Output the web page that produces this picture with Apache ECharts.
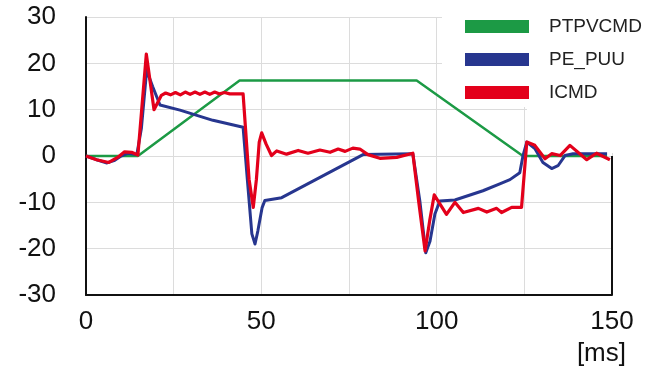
<!DOCTYPE html>
<html>
<head>
<meta charset="utf-8">
<script src="https://cdn.jsdelivr.net/npm/echarts@6/dist/echarts.min.js"></script>
<style>
  html, body { margin: 0; padding: 0; background: #fff; }
  #chart { width: 646px; height: 376px; }
</style>
</head>
<body>
<div id="chart"></div>
<script>
// 位置指令 (ms, value)
var ptpvcmdT = [0, 14.8, 43.8, 94.3, 124.6, 148.6]
var ptpvcmdV = [0, 0, 16.3, 16.3, 0, 0]

// 位置误差
var pePuuT = [0, 3, 6, 8, 10, 12, 14.5, 15.8, 17.3, 19, 21.1, 26.8, 36.2, 44.8,
  46, 47.3, 48.2, 49, 50.2, 51, 55.8, 79, 93.2,
  95.2, 96.9, 98.1, 99.5, 100.9, 105.2, 113.2, 118, 120.9, 123.7, 124.6, 125.7,
  128, 130.3, 132.8, 134.6, 136.6, 138.9, 148.6]
var pePuuV = [0, -0.8, -1.5, -1, 0, 0.6, 0.3, 6, 18.5, 15, 11, 9.9, 7.7, 6.2,
  -5, -16.8, -19, -16.2, -11.2, -9.6, -9, 0.3, 0.5,
  -9.7, -20.9, -18.4, -12.5, -9.7, -9.5, -7.5, -6, -5.1, -3.6, 0, 3,
  1.6, -1.4, -2.7, -2.1, 0.1, 0.5, 0.5]

// 电流指令
var icmdT = [0, 3, 6.5, 9, 11, 13, 14.8, 17.2, 19.4, 21.5, 22.7,
  24.1, 25.5, 26.9, 28.3, 29.7, 31.1, 32.5, 33.9, 35.3, 36.7, 38.1, 39.5, 41, 44.8,
  45.3, 46.5, 47.7, 48.6, 49.4, 50.1, 51.4, 52.9,
  54.4, 57.2, 60.5, 63.3, 66.7, 69.6, 71.9, 73.9, 76.1, 78.1, 80.4, 83.8, 88.6, 93.2,
  94.9, 96.7, 98, 99.3, 102.8, 105.2, 107.6, 111.9, 114.3, 117.1, 118.5, 121.4, 124.2,
  125.7, 128, 130.9, 132.8, 135.2, 138, 142.8, 145.6, 149.4]
var icmdV = [0, -0.8, -1.4, -0.3, 0.9, 0.8, 0.2, 22, 10, 13.1, 13.6,
  13.2, 13.7, 13.2, 13.8, 13.3, 13.8, 13.3, 13.8, 13.3, 13.8, 13.4, 13.7, 13.4, 13.4,
  13, -5, -11.1, -5, 3, 5, 2.5, 0.1,
  1.1, 0.4, 1.2, 0.6, 1.3, 0.8, 1.5, 1, 1.7, 1.5, 0.3, -0.5, -0.3, 0.6,
  -10, -20.5, -14, -8.4, -12.6, -10, -12.2, -11.3, -12.1, -11.3, -12.2, -11.1, -11.1,
  3, 2.3, -0.6, 0.5, 0.1, 2.3, -0.8, 0.6, -0.8]

var xTicks = [0, 50, 100, 150]
var yMin = -30
var yMax = 30

function pairs(t, v) {
  return t.map(function (x, i) { return [x, v[i]] })
}

var font = 'Liberation Sans, Arial, Helvetica, sans-serif'
var chart = echarts.init(document.getElementById('chart'))

var option = {
  animation: false,
  backgroundColor: '#fff',
  grid: {
    left: 86,
    right: 34,
    top: 17,
    bottom: 81
  },
  legend: {
    orient: 'vertical',
    left: 460,
    top: 12,
    icon: 'rect',
    itemWidth: 64,
    itemHeight: 13,
    itemGap: 14,
    textStyle: {
      fontFamily: font,
      fontSize: 19,
      color: '#222',
      padding: [0, 0, 0, 15]
    },
    data: ['PTPVCMD', 'PE_PUU', 'ICMD']
  },
  // 图例下方白底，遮住网格线
  graphic: [
    { type: 'rect', z: 1, shape: { x: 442, y: 0, width: 204, height: 107 }, style: { fill: '#fff' } },
    { type: 'rect', z: 1, shape: { x: 527, y: 0, width: 119, height: 153 }, style: { fill: '#fff' } }
  ],
  xAxis: {
    type: 'value',
    min: 0,
    max: 150,
    interval: 25,
    name: '[ms]',
    nameLocation: 'end',
    nameGap: 0,
    nameTextStyle: {
      fontFamily: font,
      fontSize: 26,
      color: '#111',
      align: 'right',
      verticalAlign: 'top',
      padding: [46, -14, 0, 0]
    },
    axisLine: { onZero: false, lineStyle: { color: '#111', width: 2 } },
    axisTick: { show: false },
    axisLabel: {
      fontFamily: font,
      fontSize: 26,
      color: '#111',
      margin: 14,
      formatter: function (v) {
        return xTicks.indexOf(v) >= 0 ? String(v) : ''
      }
    },
    splitLine: { lineStyle: { color: '#dcdcdc', width: 1 } }
  },
  yAxis: {
    type: 'value',
    min: yMin,
    max: yMax,
    interval: 10,
    axisLine: { show: true, lineStyle: { color: '#111', width: 2 } },
    axisTick: { show: false },
    axisLabel: {
      fontFamily: font,
      fontSize: 26,
      color: '#111',
      margin: 30
    },
    splitLine: { lineStyle: { color: '#dcdcdc', width: 1 } }
  },
  series: [
    {
      name: 'PTPVCMD',
      type: 'line',
      symbol: 'none',
      color: '#1c9a45',
      lineStyle: { width: 2.5 },
      data: pairs(ptpvcmdT, ptpvcmdV),
      // 右侧边框只画到 0 以下
      markLine: {
        silent: true,
        symbol: 'none',
        label: { show: false },
        lineStyle: { color: '#111', width: 2, type: 'solid' },
        data: [[{ coord: [150, 0] }, { coord: [150, yMin] }]]
      }
    },
    {
      name: 'PE_PUU',
      type: 'line',
      symbol: 'none',
      color: '#27368f',
      lineStyle: { width: 3, join: 'round' },
      data: pairs(pePuuT, pePuuV)
    },
    {
      name: 'ICMD',
      type: 'line',
      symbol: 'none',
      color: '#e3001b',
      lineStyle: { width: 3.2, join: 'round' },
      data: pairs(icmdT, icmdV)
    }
  ]
}

chart.setOption(option)
</script>
</body>
</html>
